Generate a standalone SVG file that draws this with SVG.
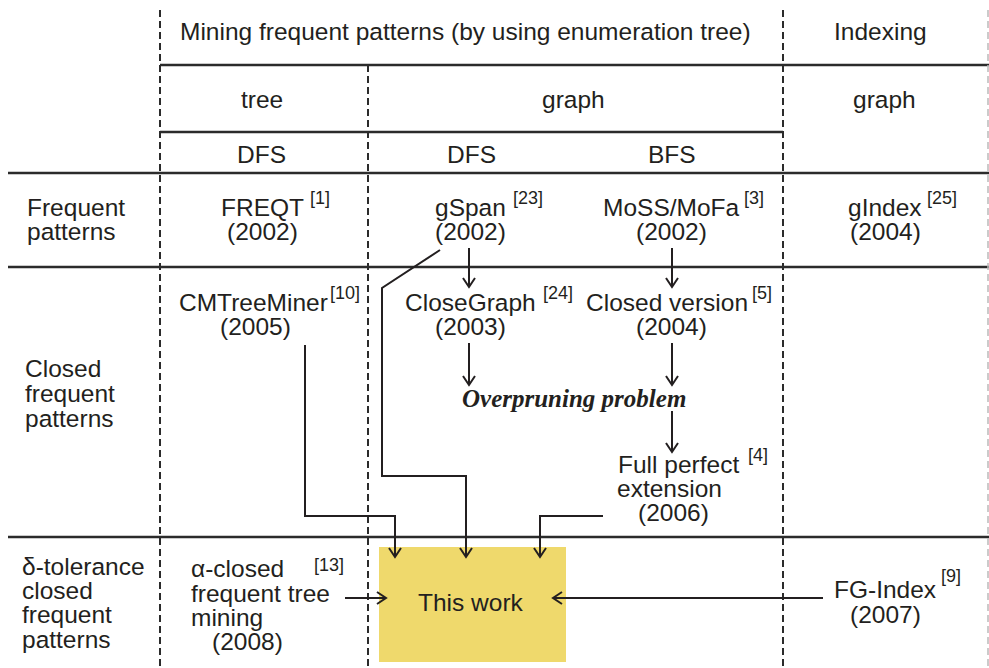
<svg xmlns="http://www.w3.org/2000/svg" width="989" height="668" viewBox="0 0 989 668">
<defs>
<style>
text{font-family:"Liberation Sans",Arial,sans-serif;font-size:24.5px;fill:#231f20}
.sup{font-size:18px}
.ov{font-family:"Liberation Serif","Times New Roman",serif;font-weight:bold;font-style:italic;font-size:25px}
.h{stroke:#2b2b2b;stroke-width:2.5;fill:none}
.d{stroke:#2b2b2b;stroke-width:2;stroke-dasharray:7 4;fill:none}
.c{stroke:#231f20;stroke-width:2;fill:none;marker-end:url(#ah)}
</style>
<marker id="ah" markerUnits="userSpaceOnUse" viewBox="-11 -8 13 16" refX="0" refY="0" markerWidth="13" markerHeight="16" orient="auto">
<path d="M-9,-6 L0,0 L-9,6" fill="none" stroke="#231f20" stroke-width="2"/>
</marker>
</defs>
<rect width="989" height="668" fill="#fff"/>
<g id="grid">
<line class="h" x1="160" y1="65" x2="989" y2="65"/>
<line class="h" x1="160" y1="132" x2="783" y2="132"/>
<line class="h" x1="8" y1="173" x2="989" y2="173"/>
<line class="h" x1="8" y1="267" x2="989" y2="267"/>
<line class="h" x1="8" y1="537" x2="989" y2="537"/>
<line class="d" x1="160" y1="10" x2="160" y2="668"/>
<line class="d" x1="368" y1="65" x2="368" y2="668"/>
<line class="d" x1="783" y1="10" x2="783" y2="668"/>
<line x1="988" y1="10" x2="988" y2="668" stroke="#bbb" stroke-width="1.5" stroke-dasharray="7 4"/>
</g>
<g id="headers">
<text x="180" y="40">Mining frequent patterns (by using enumeration tree)</text>
<text x="834" y="40">Indexing</text>
<text x="241" y="108">tree</text>
<text x="542" y="108">graph</text>
<text x="853" y="108">graph</text>
<text x="237" y="163">DFS</text>
<text x="447" y="163">DFS</text>
<text x="648" y="163">BFS</text>
</g>
<g id="row-labels">
<text x="27" y="216">Frequent</text>
<text x="27" y="240">patterns</text>
<text x="25" y="377">Closed</text>
<text x="25" y="402">frequent</text>
<text x="25" y="427">patterns</text>
<text x="22" y="575">δ-tolerance</text>
<text x="22" y="599">closed</text>
<text x="22" y="623">frequent</text>
<text x="22" y="648">patterns</text>
</g>
<g id="freqt"><text x="221" y="216">FREQT</text><text class="sup" x="310" y="204">[1]</text><text x="227" y="240">(2002)</text></g>
<g id="gspan"><text x="435" y="216">gSpan</text><text class="sup" x="513" y="204">[23]</text><text x="435" y="240">(2002)</text></g>
<g id="moss"><text x="603" y="216">MoSS/MoFa</text><text class="sup" x="744" y="204">[3]</text><text x="636" y="240">(2002)</text></g>
<g id="gindex"><text x="848" y="216">gIndex</text><text class="sup" x="927" y="204">[25]</text><text x="850" y="240">(2004)</text></g>
<g id="cmtreeminer"><text x="179" y="311">CMTreeMiner</text><text class="sup" x="330" y="299">[10]</text><text x="220" y="335">(2005)</text></g>
<g id="closegraph"><text x="405" y="311">CloseGraph</text><text class="sup" x="543" y="299">[24]</text><text x="435" y="335">(2003)</text></g>
<g id="closedversion"><text x="586" y="311">Closed version</text><text class="sup" x="752" y="299">[5]</text><text x="636" y="335">(2004)</text></g>
<g id="overpruning"><text class="ov" x="462" y="407">Overpruning problem</text></g>
<g id="fullperfect"><text x="618" y="473">Full perfect</text><text class="sup" x="748" y="461">[4]</text><text x="617" y="497">extension</text><text x="638" y="521">(2006)</text></g>
<g id="alphaclosed"><text x="191" y="577">α-closed</text><text class="sup" x="314" y="571">[13]</text><text x="191" y="602">frequent tree</text><text x="191" y="626">mining</text><text x="212" y="650">(2008)</text></g>
<g id="thiswork"><rect x="379" y="547" width="187" height="115" fill="#efd96c"/><text x="418" y="611">This work</text></g>
<g id="fgindex"><text x="834" y="598">FG-Index</text><text class="sup" x="941" y="582">[9]</text><text x="850" y="623">(2007)</text></g>
<g id="connectors">
<line class="c" x1="469" y1="248" x2="469" y2="287"/>
<line class="c" x1="672" y1="248" x2="672" y2="287"/>
<line class="c" x1="469" y1="343" x2="469" y2="385"/>
<line class="c" x1="672" y1="343" x2="672" y2="385"/>
<line class="c" x1="672" y1="411" x2="672" y2="452"/>
<polyline class="c" points="305,345 305,516 395,516 395,557"/>
<polyline class="c" points="440,250 382,288 382,476 466,476 466,557"/>
<polyline class="c" points="603,516 540,516 540,557"/>
<line class="c" x1="345" y1="598" x2="386" y2="598"/>
<line class="c" x1="823" y1="598" x2="553" y2="598"/>
</g>
</svg>
